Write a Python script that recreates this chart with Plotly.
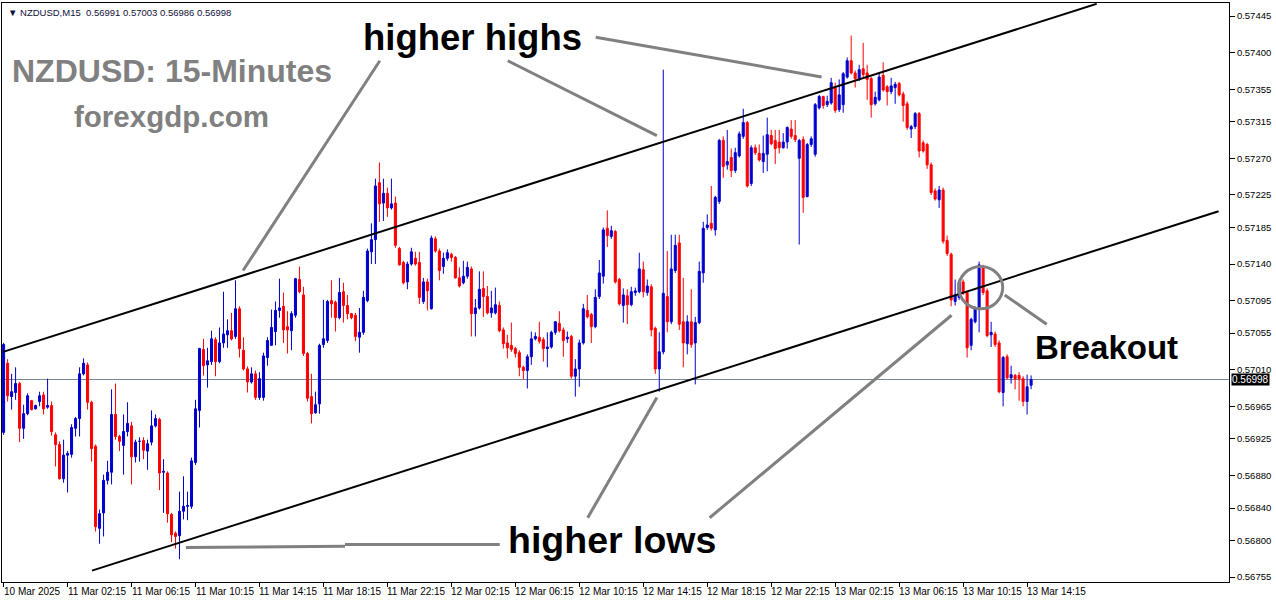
import plotly.graph_objects as go

# ---------------- data (NZDUSD M15) ----------------
open_ = [0.56933,0.57018,0.56977,0.56982,0.56993,0.56938,0.56956,0.56972,0.56962,0.56971,
0.56979,0.56964,0.56966,0.56930,0.56918,0.56876,0.56905,0.56906,0.56938,0.56950,
0.57005,0.57016,0.56970,0.56916,0.56815,0.56834,0.56874,0.56884,0.56955,0.56928,
0.56917,0.56934,0.56941,0.56903,0.56922,0.56923,0.56910,0.56921,0.56941,0.56949,
0.56884,0.56883,0.56832,0.56809,0.56806,0.56836,0.56842,0.56842,0.56896,0.56960,
0.57035,0.57016,0.57020,0.57047,0.57020,0.57043,0.57053,0.57058,0.57051,0.57085,
0.57034,0.57011,0.56995,0.57005,0.56976,0.56976,0.57025,0.57040,0.57057,0.57083,
0.57088,0.57063,0.57058,0.57077,0.57121,0.57102,0.57030,0.56977,0.56957,0.56968,
0.57041,0.57046,0.57095,0.57093,0.57074,0.57106,0.57089,0.57079,0.57077,0.57050,
0.57056,0.57095,0.57155,0.57170,0.57240,0.57215,0.57227,0.57209,0.57215,0.57159,
0.57142,0.57118,0.57140,0.57147,0.57142,0.57094,0.57118,0.57085,0.57171,0.57156,
0.57137,0.57147,0.57152,0.57148,0.57123,0.57117,0.57125,0.57134,0.57079,0.57086,
0.57110,0.57100,0.57080,0.57080,0.57089,0.57059,0.57043,0.57040,0.57036,0.57031,
0.57013,0.57009,0.57026,0.57048,0.57050,0.57047,0.57036,0.57038,0.57056,0.57067,
0.57059,0.57048,0.57051,0.57002,0.57011,0.57043,0.57083,0.57078,0.57063,0.57100,
0.57125,0.57184,0.57174,0.57180,0.57121,0.57089,0.57101,0.57090,0.57105,0.57106,
0.57133,0.57105,0.57112,0.57061,0.57011,0.57032,0.57100,0.57069,0.57132,0.57166,
0.57069,0.57042,0.57069,0.57043,0.57068,0.57129,0.57185,0.57190,0.57182,0.57217,
0.57292,0.57262,0.57271,0.57255,0.57273,0.57297,0.57314,0.57239,0.57283,0.57276,
0.57266,0.57275,0.57298,0.57292,0.57290,0.57283,0.57290,0.57306,0.57298,0.57270,
0.57293,0.57223,0.57287,0.57275,0.57332,0.57346,0.57336,0.57338,0.57357,0.57330,
0.57336,0.57370,0.57390,0.57375,0.57368,0.57380,0.57375,0.57368,0.57337,0.57342,
0.57372,0.57358,0.57352,0.57357,0.57362,0.57349,0.57337,0.57306,0.57309,0.57325,
0.57289,0.57287,0.57262,0.57230,0.57219,0.57231,0.57169,0.57152,0.57094,0.57099,
0.57118,0.57105,0.57040,0.57069,0.57086,0.57137,0.57107,0.57053,0.57054,0.57043,
0.56982,0.57026,0.57000,0.57003,0.57003,0.56999,0.56971,0.56991]

high = [0.57043,0.57023,0.57005,0.57013,0.56995,0.56967,0.56981,0.56973,0.56967,0.56983,
0.56983,0.56999,0.56971,0.56933,0.56922,0.56924,0.56910,0.56943,0.56952,0.57013,
0.57024,0.57019,0.56972,0.56918,0.56838,0.56881,0.56898,0.56986,0.56993,0.56930,
0.56955,0.56970,0.56946,0.56924,0.56927,0.56927,0.56924,0.56960,0.56955,0.56951,
0.56900,0.56885,0.56834,0.56811,0.56860,0.56879,0.56860,0.56902,0.56973,0.57037,
0.57048,0.57037,0.57058,0.57050,0.57062,0.57106,0.57072,0.57080,0.57120,0.57088,
0.57050,0.57014,0.57013,0.57009,0.57007,0.57031,0.57050,0.57084,0.57094,0.57122,
0.57105,0.57082,0.57082,0.57123,0.57137,0.57112,0.57032,0.57005,0.56983,0.57042,
0.57096,0.57096,0.57120,0.57095,0.57123,0.57117,0.57102,0.57080,0.57080,0.57086,
0.57107,0.57159,0.57190,0.57245,0.57265,0.57245,0.57234,0.57245,0.57223,0.57161,
0.57144,0.57143,0.57160,0.57155,0.57155,0.57123,0.57122,0.57175,0.57174,0.57159,
0.57154,0.57158,0.57154,0.57150,0.57136,0.57144,0.57143,0.57137,0.57097,0.57131,
0.57131,0.57113,0.57107,0.57111,0.57094,0.57062,0.57053,0.57068,0.57038,0.57034,
0.57015,0.57029,0.57057,0.57056,0.57069,0.57050,0.57056,0.57058,0.57070,0.57082,
0.57062,0.57057,0.57053,0.57023,0.57047,0.57091,0.57102,0.57080,0.57109,0.57145,
0.57185,0.57206,0.57187,0.57182,0.57123,0.57110,0.57109,0.57112,0.57111,0.57154,
0.57143,0.57121,0.57115,0.57063,0.57056,0.57379,0.57156,0.57176,0.57176,0.57176,
0.57123,0.57077,0.57109,0.57075,0.57143,0.57192,0.57201,0.57236,0.57224,0.57294,
0.57297,0.57305,0.57282,0.57283,0.57303,0.57331,0.57316,0.57286,0.57287,0.57287,
0.57298,0.57320,0.57305,0.57305,0.57305,0.57301,0.57309,0.57317,0.57317,0.57294,
0.57297,0.57289,0.57297,0.57338,0.57348,0.57347,0.57347,0.57369,0.57363,0.57367,
0.57376,0.57394,0.57421,0.57378,0.57385,0.57412,0.57385,0.57370,0.57352,0.57376,
0.57388,0.57360,0.57369,0.57364,0.57364,0.57352,0.57340,0.57311,0.57327,0.57327,
0.57292,0.57289,0.57265,0.57233,0.57236,0.57234,0.57175,0.57154,0.57121,0.57121,
0.57121,0.57107,0.57074,0.57088,0.57143,0.57139,0.57110,0.57069,0.57057,0.57046,
0.57027,0.57029,0.57015,0.57005,0.57007,0.57002,0.57004,0.57003]

low = [0.56930,0.56971,0.56961,0.56973,0.56921,0.56925,0.56954,0.56960,0.56961,0.56965,
0.56955,0.56962,0.56929,0.56891,0.56875,0.56871,0.56859,0.56902,0.56928,0.56928,
0.57003,0.56961,0.56897,0.56811,0.56796,0.56805,0.56869,0.56869,0.56924,0.56910,
0.56881,0.56928,0.56869,0.56896,0.56897,0.56900,0.56887,0.56917,0.56939,0.56862,
0.56834,0.56822,0.56798,0.56790,0.56777,0.56826,0.56825,0.56839,0.56893,0.56939,
0.57003,0.56988,0.57016,0.57002,0.57018,0.57037,0.57037,0.57046,0.57048,0.57025,
0.57009,0.56982,0.56993,0.56973,0.56973,0.56972,0.57015,0.57040,0.57040,0.57074,
0.57043,0.57030,0.57034,0.57074,0.57104,0.57027,0.56971,0.56944,0.56956,0.56956,
0.57037,0.57043,0.57074,0.57057,0.57072,0.57068,0.57072,0.57072,0.57045,0.57031,
0.57053,0.57093,0.57140,0.57140,0.57192,0.57193,0.57198,0.57207,0.57160,0.57138,
0.57115,0.57109,0.57138,0.57138,0.57091,0.57091,0.57083,0.57084,0.57154,0.57120,
0.57128,0.57144,0.57143,0.57122,0.57111,0.57115,0.57122,0.57051,0.57051,0.57084,
0.57075,0.57078,0.57074,0.57078,0.57056,0.57036,0.57024,0.57032,0.57025,0.57002,
0.56998,0.56987,0.57016,0.57046,0.57042,0.57020,0.57013,0.57036,0.57053,0.57056,
0.57026,0.57043,0.56999,0.56977,0.56989,0.57041,0.57073,0.57043,0.57061,0.57097,
0.57116,0.57161,0.57171,0.57116,0.57089,0.57068,0.57066,0.57088,0.57101,0.57104,
0.57099,0.57101,0.57051,0.57005,0.56983,0.57029,0.57056,0.57066,0.57129,0.57059,
0.57013,0.57029,0.57037,0.56992,0.57066,0.57117,0.57182,0.57181,0.57175,0.57214,
0.57246,0.57256,0.57247,0.57252,0.57271,0.57294,0.57234,0.57236,0.57274,0.57266,
0.57252,0.57254,0.57286,0.57263,0.57276,0.57282,0.57282,0.57294,0.57290,0.57164,
0.57203,0.57222,0.57284,0.57272,0.57330,0.57331,0.57333,0.57336,0.57326,0.57327,
0.57326,0.57368,0.57373,0.57357,0.57365,0.57370,0.57342,0.57320,0.57335,0.57340,
0.57352,0.57335,0.57349,0.57337,0.57346,0.57315,0.57305,0.57295,0.57306,0.57271,
0.57277,0.57257,0.57225,0.57218,0.57209,0.57165,0.57150,0.57088,0.57089,0.57096,
0.57102,0.57025,0.57034,0.57067,0.57056,0.57102,0.57050,0.57038,0.57038,0.56981,
0.56965,0.56998,0.56993,0.56986,0.56972,0.56965,0.56955,0.56986]

close = [0.57041,0.56978,0.56983,0.56993,0.56938,0.56956,0.56978,0.56961,0.56966,0.56978,
0.56962,0.56966,0.56934,0.56918,0.56876,0.56905,0.56907,0.56939,0.56950,0.57005,
0.57018,0.56970,0.56913,0.56817,0.56833,0.56874,0.56884,0.56955,0.56928,0.56922,
0.56934,0.56944,0.56903,0.56921,0.56922,0.56911,0.56919,0.56941,0.56950,0.56883,
0.56885,0.56833,0.56807,0.56805,0.56836,0.56842,0.56843,0.56898,0.56962,0.57036,
0.57015,0.57021,0.57048,0.57020,0.57043,0.57054,0.57058,0.57048,0.57085,0.57036,
0.57011,0.56995,0.57005,0.56976,0.56999,0.57027,0.57046,0.57062,0.57083,0.57086,
0.57059,0.57059,0.57079,0.57122,0.57106,0.57030,0.56975,0.56956,0.56967,0.57040,
0.57048,0.57094,0.57091,0.57074,0.57105,0.57089,0.57079,0.57074,0.57051,0.57056,
0.57099,0.57156,0.57170,0.57236,0.57214,0.57227,0.57209,0.57214,0.57163,0.57139,
0.57117,0.57140,0.57155,0.57140,0.57099,0.57118,0.57107,0.57172,0.57156,0.57132,
0.57147,0.57154,0.57148,0.57123,0.57113,0.57125,0.57136,0.57079,0.57086,0.57109,
0.57100,0.57080,0.57086,0.57090,0.57058,0.57042,0.57037,0.57035,0.57030,0.57013,
0.57009,0.57026,0.57048,0.57051,0.57045,0.57036,0.57038,0.57056,0.57069,0.57058,
0.57046,0.57050,0.57002,0.57011,0.57043,0.57085,0.57075,0.57063,0.57099,0.57129,
0.57182,0.57175,0.57181,0.57118,0.57091,0.57102,0.57090,0.57106,0.57107,0.57134,
0.57106,0.57113,0.57059,0.57011,0.57032,0.57104,0.57069,0.57134,0.57163,0.57066,
0.57043,0.57069,0.57041,0.57068,0.57131,0.57184,0.57188,0.57184,0.57222,0.57292,
0.57260,0.57266,0.57255,0.57277,0.57300,0.57314,0.57236,0.57283,0.57277,0.57268,
0.57276,0.57299,0.57288,0.57282,0.57283,0.57290,0.57308,0.57297,0.57293,0.57292,
0.57222,0.57287,0.57294,0.57336,0.57346,0.57335,0.57340,0.57363,0.57329,0.57348,
0.57374,0.57390,0.57375,0.57368,0.57379,0.57373,0.57367,0.57336,0.57345,0.57370,
0.57354,0.57352,0.57359,0.57361,0.57348,0.57335,0.57308,0.57309,0.57325,0.57279,
0.57279,0.57262,0.57228,0.57220,0.57231,0.57168,0.57153,0.57096,0.57102,0.57118,
0.57105,0.57037,0.57072,0.57085,0.57139,0.57105,0.57052,0.57056,0.57041,0.56983,
0.57025,0.57000,0.57004,0.56999,0.56999,0.56971,0.56989,0.56998]

# time-axis labels (one every 16 bars = 4 hours)
tick_bars = [0, 16, 32, 48, 64, 80, 96, 112, 128, 144, 160, 176, 192, 208, 224, 240, 256]
tick_labels = ["10 Mar 2025", "11 Mar 02:15", "11 Mar 06:15", "11 Mar 10:15", "11 Mar 14:15",
               "11 Mar 18:15", "11 Mar 22:15", "12 Mar 02:15", "12 Mar 06:15", "12 Mar 10:15",
               "12 Mar 14:15", "12 Mar 18:15", "12 Mar 22:15", "13 Mar 02:15", "13 Mar 06:15",
               "13 Mar 10:15", "13 Mar 14:15"]

price_ticks = [0.57445, 0.57400, 0.57355, 0.57315, 0.57270, 0.57225, 0.57185, 0.57140, 0.57095,
               0.57055, 0.57010, 0.56965, 0.56925, 0.56880, 0.56840, 0.56800, 0.56755]

# drawn trend channel (bar index, price)
upper_line = [(-0.125, 0.57032), (273.4, 0.57460)]
lower_line = [(22.1, 0.56763), (303.9, 0.57205)]

# grey pointer lines (bar index, price)
pointers = [
    [(59.9, 0.57132), (94.1, 0.57390)],
    [(126.1, 0.57390), (163.4, 0.57298)],
    [(148.1, 0.57419), (204.6, 0.57370)],
    [(45.6, 0.567915), (85.4, 0.56793)],
    [(85.4, 0.56795), (124.1, 0.56795)],
    [(146.1, 0.56828), (163.4, 0.56976)],
    [(176.6, 0.56828), (237.1, 0.57077)],
    [(250.4, 0.57102), (260.9, 0.57066)],
]
breakout_circle = [(238.9, 0.57137), (249.9, 0.57085)]

labels = [
    ("higher highs", 117.4, 0.57418, 36.5, "black"),
    ("higher lows", 152.1, 0.56801, 37.5, "black"),
    ("Breakout", 275.9, 0.57037, 33, "black"),
    ("NZDUSD: 15-Minutes", 42.1, 0.57378, 32, "#808080"),
    ("forexgdp.com", 41.9, 0.57321, 29.5, "#808080"),
]

BULL = "#0000CD"
BEAR = "#FF0000"
AXIS_FONT = "Liberation Sans, Arial, sans-serif"

bars = list(range(len(open_)))

fig = go.Figure()
fig.add_trace(go.Candlestick(
    x=bars, open=open_, high=high, low=low, close=close,
    increasing=dict(line=dict(color=BULL, width=1), fillcolor=BULL),
    decreasing=dict(line=dict(color=BEAR, width=1), fillcolor=BEAR),
    whiskerwidth=0, hoverinfo="skip", showlegend=False,
))

shapes = []
# current price line
shapes.append(dict(type="line", xref="paper", x0=0, x1=1, yref="y", y0=close[-1], y1=close[-1],
                   line=dict(color="#778899", width=1), layer="below"))
for (x0, y0), (x1, y1) in (upper_line, lower_line):
    shapes.append(dict(type="line", xref="x", yref="y", x0=x0, y0=y0, x1=x1, y1=y1,
                       line=dict(color="black", width=2)))
for (x0, y0), (x1, y1) in pointers:
    shapes.append(dict(type="line", xref="x", yref="y", x0=x0, y0=y0, x1=x1, y1=y1,
                       line=dict(color="#808080", width=3)))
(cx0, cy0), (cx1, cy1) = breakout_circle
shapes.append(dict(type="circle", xref="x", yref="y", x0=cx0, y0=cy0, x1=cx1, y1=cy1,
                   line=dict(color="#808080", width=3)))

annotations = []
for txt, xx, yy, size, color in labels:
    annotations.append(dict(x=xx, y=yy, xref="x", yref="y", text="<b>" + txt + "</b>",
                            showarrow=False, xanchor="center", yanchor="middle",
                            font=dict(family="Liberation Sans, Arial, sans-serif", size=size, color=color)))
for b, lab in zip(tick_bars, tick_labels):
    annotations.append(dict(x=b, y=0, xref="x", yref="paper", text=lab, showarrow=False,
                            xanchor="left", yanchor="top", yshift=-2, xshift=-2,
                            font=dict(family=AXIS_FONT, size=10, color="#000000")))
# current price tag
annotations.append(dict(x=1, y=close[-1], xref="paper", yref="y", text=f"{close[-1]:.5f}",
                        showarrow=False, xanchor="left", yanchor="middle", xshift=2,
                        bgcolor="black", borderpad=0,
                        font=dict(family=AXIS_FONT, size=10, color="white")))
# header
header = f"\u25BC NZDUSD,M15  {open_[-1]:.5f} {high[-1]:.5f} {low[-1]:.5f} {close[-1]:.5f}"
annotations.append(dict(x=0, y=1, xref="paper", yref="paper", text=header, showarrow=False,
                        xanchor="left", yanchor="top", xshift=4, yshift=-2,
                        font=dict(family=AXIS_FONT, size=9.5, color="#10103a")))

fig.update_layout(
    width=1276, height=604,
    margin=dict(l=2, r=47, t=3, b=22),
    paper_bgcolor="white", plot_bgcolor="white",
    shapes=shapes, annotations=annotations,
    boxgap=0.27,
    xaxis=dict(range=[-0.4, 306.5], showgrid=False, zeroline=False, showline=True,
               linecolor="black", linewidth=1, mirror=True, ticks="outside", ticklen=4,
               tickcolor="black", tickvals=tick_bars, showticklabels=False,
               rangeslider=dict(visible=False), fixedrange=True),
    yaxis=dict(range=[0.56749, 0.57461], side="right", showgrid=False, zeroline=False,
               showline=True, linecolor="black", linewidth=1, mirror=True, ticks="outside",
               ticklen=5, tickcolor="black", tickvals=price_ticks,
               ticktext=[f"{v:.5f}" for v in price_ticks],
               tickfont=dict(family=AXIS_FONT, size=9.5, color="#000000"), fixedrange=True),
)

fig.write_html("out.html", config={"displayModeBar": False},
               post_script=["document.body.style.margin='0px';"])
